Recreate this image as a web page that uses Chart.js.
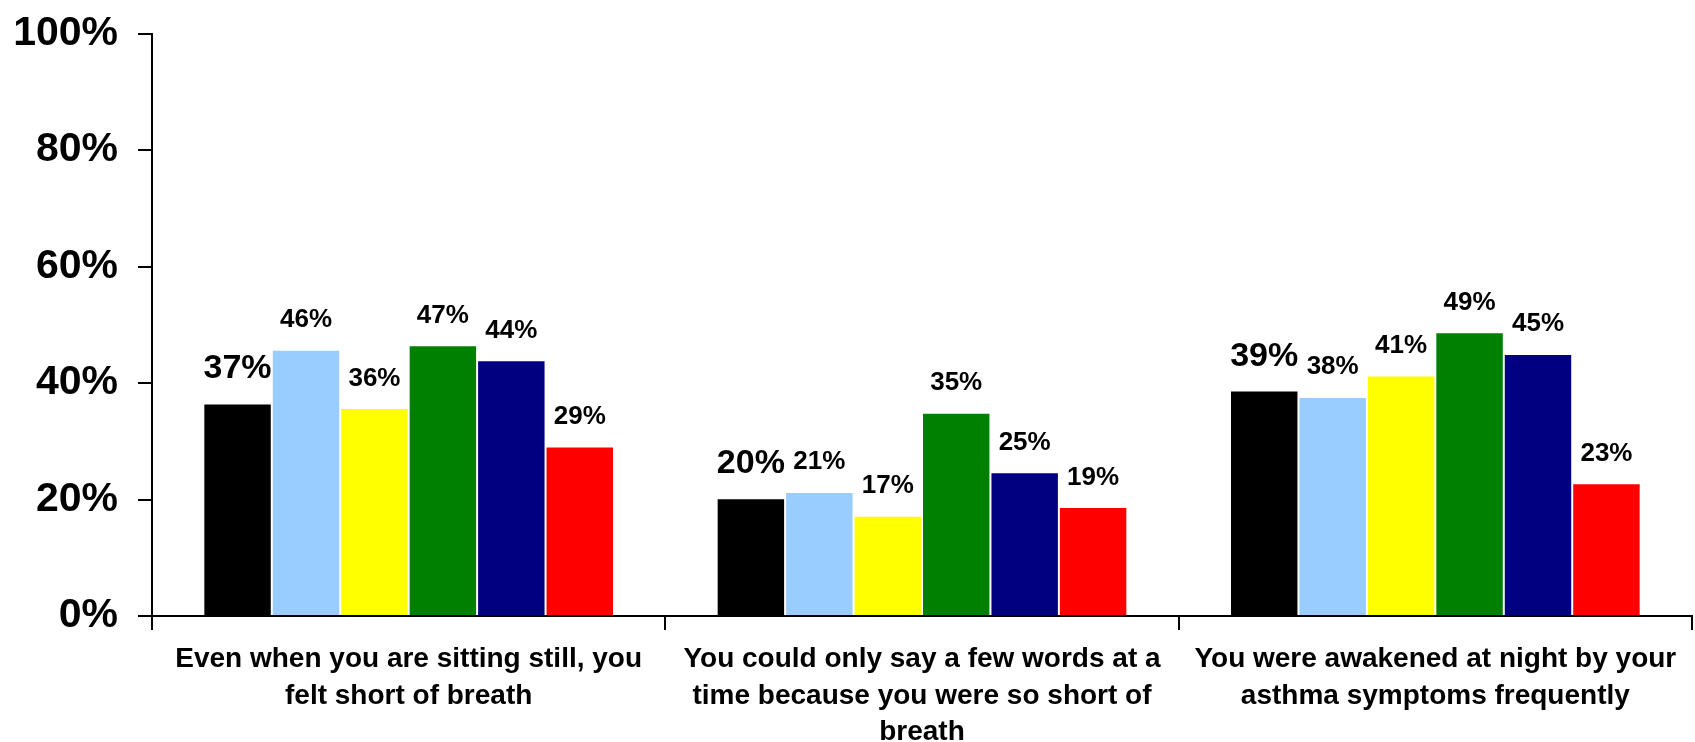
<!DOCTYPE html>
<html>
<head>
<meta charset="utf-8">
<script src="https://cdn.jsdelivr.net/npm/chart.js@4/dist/chart.umd.min.js"></script>
<style>
  html, body { margin: 0; padding: 0; background: #fff; }
  #wrap { width: 1695px; height: 742px; position: relative; }
</style>
</head>
<body>
<div id="wrap"><canvas id="generated_chart"></canvas></div>
<script>
// categories (x axis labels, wrapped like the original)
const categories = [
    ["Even when you are sitting still, you", "felt short of breath"],
    ["You could only say a few words at a", "time because you were so short of", "breath"],
    ["You were awakened at night by your", "asthma symptoms frequently"]
];

// one array per series, values in %
const series_1 = [36.5, 20.2, 38.7];
const series_2 = [45.7, 21.3, 37.6];
const series_3 = [35.7, 17.2, 41.3];
const series_4 = [46.5, 34.9, 48.7];
const series_5 = [43.9, 24.7, 45.0];
const series_6 = [29.1, 18.7, 22.8];

const y_ticks = [0, 20, 40, 60, 80, 100];

const FONT = '"Liberation Sans", Arial, Helvetica, sans-serif';

// draws the % labels above each bar (first series uses a bigger font)
const bar_labels = {
    id: 'bar_labels',
    afterDatasetsDraw: function( chart ) {
        const ctx = chart.ctx;
        ctx.save();
        ctx.fillStyle = '#000';
        ctx.textAlign = 'center';
        ctx.textBaseline = 'alphabetic';
        chart.data.datasets.forEach( (ds, i) => {
            const meta = chart.getDatasetMeta(i);
            const big = i === 0;
            ctx.font = 'bold ' + (big ? 34 : 26) + 'px ' + FONT;
            meta.data.forEach( (bar, j) => {
                ctx.fillText(Math.round(ds.data[j]) + '%', bar.x, bar.y - (big ? 25 : 22.5));
            });
        });
        ctx.restore();
    }
};

const ctx = document.getElementById('generated_chart').getContext('2d');

const the_chart = new Chart(ctx, {
    type: 'bar',
    data: {
        labels: categories,
        datasets: [
            { label: 'Series 1', data: series_1, backgroundColor: '#000000' },
            { label: 'Series 2', data: series_2, backgroundColor: '#99CCFF' },
            { label: 'Series 3', data: series_3, backgroundColor: '#FFFF00' },
            { label: 'Series 4', data: series_4, backgroundColor: '#008000' },
            { label: 'Series 5', data: series_5, backgroundColor: '#000080' },
            { label: 'Series 6', data: series_6, backgroundColor: '#FF0000' }
        ].map( d => Object.assign(d, {
            borderColor: '#ffffff',
            borderWidth: 1,
            categoryPercentage: 0.8,
            barPercentage: 1.0
        }))
    },
    options: {
        responsive: true,
        maintainAspectRatio: false,
        animation: false,
        layout: { padding: { top: 20, right: 3, left: 0, bottom: 0 } },
        plugins: {
            legend: { display: false },
            tooltip: { enabled: false }
        },
        scales: {
            x: {
                grid: {
                    offset: true,
                    drawOnChartArea: false,
                    drawTicks: true,
                    tickLength: 14,
                    color: '#000',
                    lineWidth: 2
                },
                border: { color: '#000', width: 2 },
                ticks: {
                    color: '#000',
                    padding: 11,
                    maxRotation: 0,
                    autoSkip: false,
                    font: { family: FONT, size: 28, weight: 'bold', lineHeight: 1.31 }
                },
                afterFit: function( scale ) { scale.height = 126; }
            },
            y: {
                min: 0,
                max: 100,
                afterBuildTicks: function( scale ) {
                    scale.ticks = y_ticks.map( v => ({ value: v }) );
                },
                grid: {
                    drawOnChartArea: false,
                    drawTicks: true,
                    tickLength: 14,
                    color: '#000',
                    lineWidth: 2
                },
                border: { color: '#000', width: 2 },
                ticks: {
                    color: '#000',
                    padding: 20,
                    // small lineHeight so the top label does not push the plot down
                    font: { family: FONT, size: 41, weight: 'bold', lineHeight: 0.66 },
                    callback: v => v + '%'
                },
                afterFit: function( scale ) { scale.width = 152; }
            }
        }
    },
    plugins: [bar_labels]
});
</script>
</body>
</html>
